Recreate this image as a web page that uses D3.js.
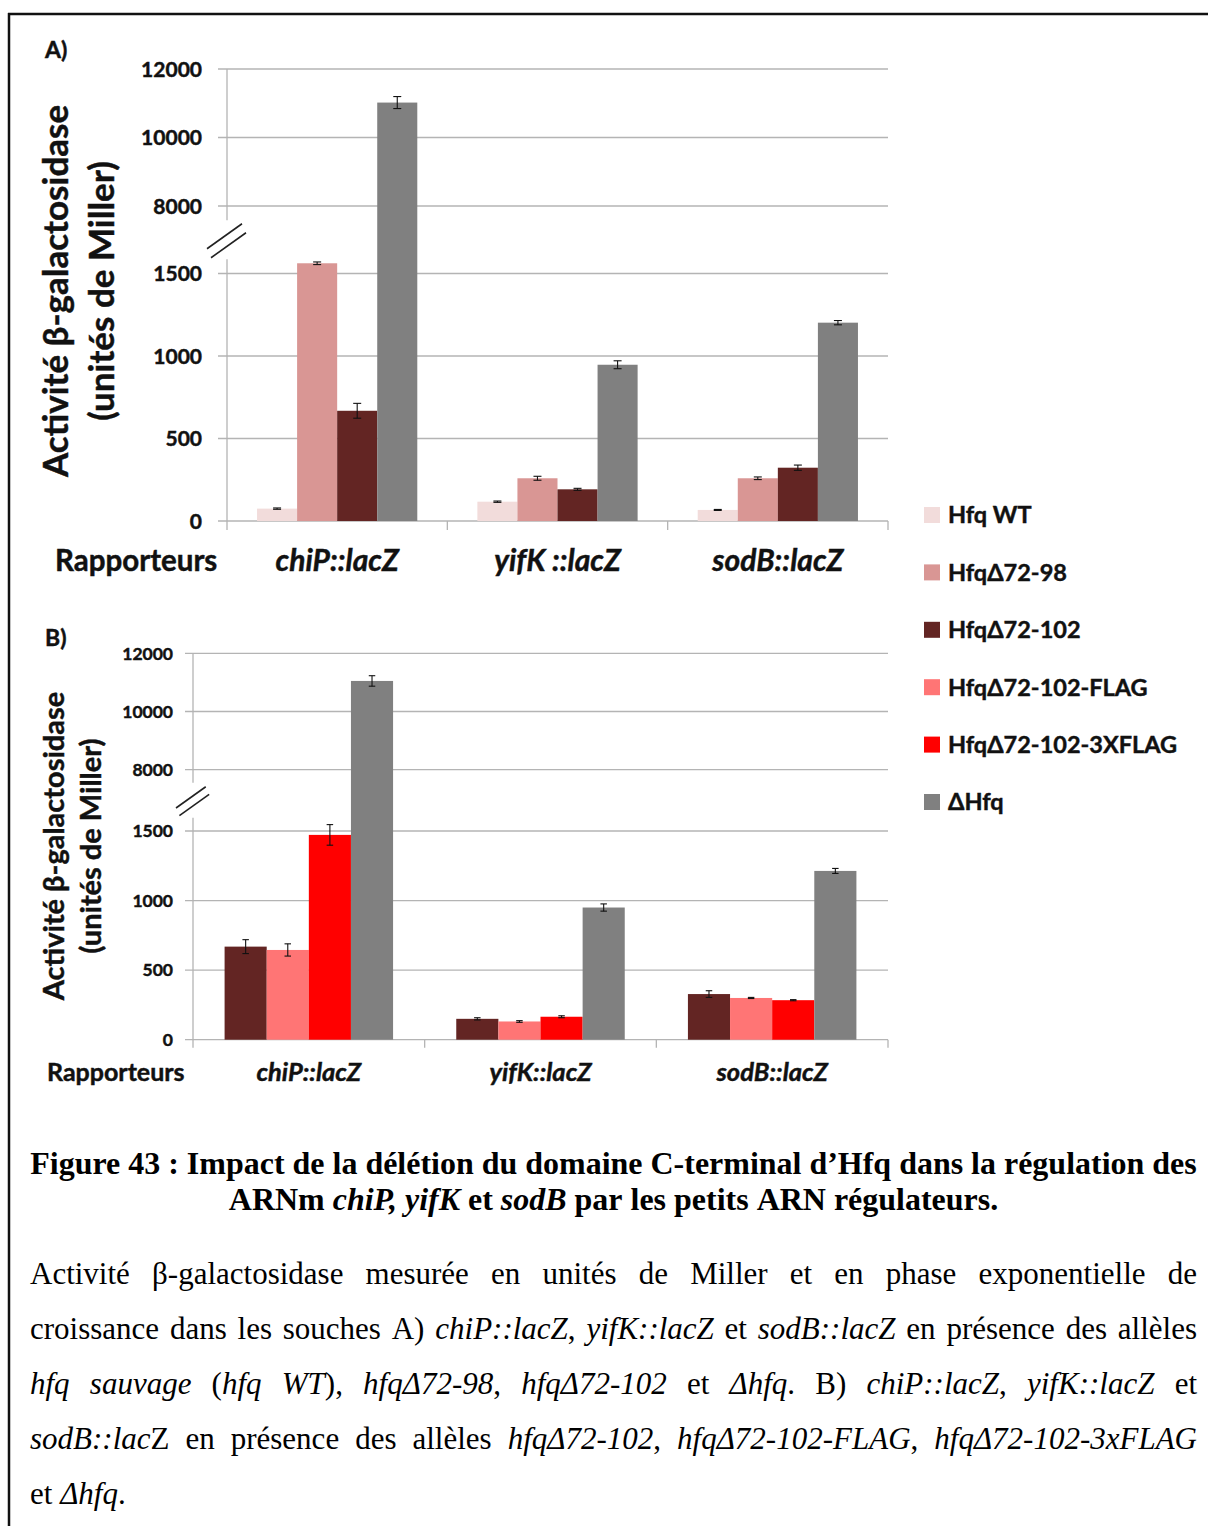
<!DOCTYPE html>
<html><head><meta charset="utf-8">
<script src="https://cdn.jsdelivr.net/npm/d3@7"></script>
<style>body{margin:0;background:#fff} .heavy{stroke:#111;stroke-width:0.45px;paint-order:stroke}</style>
</head><body>
<svg id="c" width="1208" height="1526" xmlns="http://www.w3.org/2000/svg"></svg>
<script>
// ---------- DATA ----------
const seriesNames  = ["Hfq WT","HfqΔ72-98","HfqΔ72-102","HfqΔ72-102-FLAG","HfqΔ72-102-3XFLAG","ΔHfq"];
const seriesColors = ["#f2dcdb","#d99694","#632523","#ff7575","#ff0000","#808080"];
const categoriesA  = ["chiP::lacZ","yifK ::lacZ","sodB::lacZ"];
const categoriesB  = ["chiP::lacZ","yifK::lacZ","sodB::lacZ"];
const tickValues   = [0,500,1000,1500,8000,10000,12000];
const tickLabels   = ["0","500","1000","1500","8000","10000","12000"];

// Panel A values (Miller units) and error bars
const hfqWT_A      = [75, 117, 67];     const hfqWT_A_err    = [4, 4, 3];
const d72_98_A     = [1562, 259, 259];  const d72_98_A_err   = [8, 12, 8];
const d72_102_A    = [668, 192, 323];   const d72_102_A_err  = [45, 6, 16];
const dHfq_A       = [11020, 947, 1202];const dHfq_A_err     = [175, 24, 13];

// Panel B values
const d72_102_B    = [669, 150, 328];   const d72_102_B_err  = [50, 8, 24];
const flag_B       = [645, 131, 300];   const flag_B_err     = [44, 6, 4];
const flag3x_B     = [1472, 165, 284];  const flag3x_B_err   = [74, 7, 4];
const dHfq_B       = [11050, 950, 1213];const dHfq_B_err     = [180, 26, 18];

// ---------- DRAW ----------
const svg = d3.select("#c");
const SANS = "Lato, 'Open Sans', sans-serif";
const SERIF = "'Liberation Serif', 'Times New Roman', serif";

// frame
svg.append("line").attr("x1",8).attr("x2",1208).attr("y1",14).attr("y2",14).attr("stroke","#111").attr("stroke-width",2.5);
svg.append("line").attr("x1",9).attr("x2",9).attr("y1",13).attr("y2",1526).attr("stroke","#111").attr("stroke-width",2.5);

const colorOf = d3.scaleOrdinal().domain(seriesNames).range(seriesColors);

function panel(cfg){
  const g = svg.append("g");
  // broken value axis: lower segment 0-1500, upper segment 8000-12000, joined at the break
  const lower = d3.scaleLinear().domain([0,1500]).range([cfg.yRange[0], cfg.yRange[1]]);
  const upper = d3.scaleLinear().domain([8000,12000]).range([cfg.yRange[2], cfg.yRange[3]]);
  const mid = (lower(1500)+upper(8000))/2;
  const bLow = lower.invert(mid), bHigh = upper.invert(mid);
  const y = d3.scaleLinear()
    .domain([0,1500,bLow,bHigh,8000,12000])
    .range([lower(0),lower(1500),mid,mid,upper(8000),upper(12000)]);
  const x = d3.scaleBand().domain(cfg.categories).range([cfg.xLeft, cfg.xRight]).paddingInner(0).paddingOuter(0);
  const xs = d3.scaleBand().domain(cfg.series.map(s=>s.name)).range([0, x.bandwidth()]).paddingInner(0).paddingOuter(0.75);

  // gridlines
  g.selectAll("line.grid").data(tickValues).join("line")
    .attr("x1", cfg.xLeft - cfg.tickLen).attr("x2", cfg.xRight)
    .attr("y1", d=>y(d)).attr("y2", d=>y(d))
    .attr("stroke","#b4b4b4").attr("stroke-width",1.3);

  // y axis segments (broken)
  const gapHalf = cfg.gapHalf;
  g.append("line").attr("x1",cfg.xLeft).attr("x2",cfg.xLeft).attr("y1",y(12000)).attr("y2",mid-gapHalf)
    .attr("stroke","#b4b4b4").attr("stroke-width",1.3);
  g.append("line").attr("x1",cfg.xLeft).attr("x2",cfg.xLeft).attr("y1",mid+gapHalf).attr("y2",y(0)+cfg.tickLen)
    .attr("stroke","#b4b4b4").attr("stroke-width",1.3);
  // category ticks
  const bounds = cfg.categories.map(c=>x(c)+x.bandwidth());
  g.selectAll("line.ct").data(bounds).join("line")
    .attr("x1",d=>d).attr("x2",d=>d).attr("y1",y(0)).attr("y2",y(0)+cfg.tickLen)
    .attr("stroke","#b4b4b4").attr("stroke-width",1.3);

  // break marks
  const s = cfg.breakScale;
  [[-20,9,15,-16],[-16,18,19,-7]].forEach(b=>{
    g.append("line")
      .attr("x1",cfg.xLeft+b[0]*s).attr("y1",mid+b[1]*s)
      .attr("x2",cfg.xLeft+b[2]*s).attr("y2",mid+b[3]*s)
      .attr("stroke","#222").attr("stroke-width",1.6);
  });

  // tick labels
  g.selectAll("text.tick").data(tickValues).join("text").attr("class","heavy")
    .attr("x", cfg.tickLabelX).attr("y", d=>y(d)).attr("dy","0.36em")
    .attr("text-anchor","end").attr("font-family",SANS).attr("font-weight",700)
    .attr("font-size",cfg.tickFont).attr("fill","#111")
    .text((d,i)=>tickLabels[i]);

  // bars
  const flat = [];
  cfg.categories.forEach((c,ci)=>cfg.series.forEach(sr=>{
    flat.push({cat:c, name:sr.name, v:sr.values[ci], e:sr.err[ci]});
  }));
  g.selectAll("rect.bar").data(flat).join("rect")
    .attr("x", d=>x(d.cat)+xs(d.name)).attr("width", xs.bandwidth())
    .attr("y", d=>y(d.v)).attr("height", d=>y(0)-y(d.v))
    .attr("fill", d=>colorOf(d.name));

  // error bars
  const cx = d=>x(d.cat)+xs(d.name)+xs.bandwidth()/2;
  const eb = g.selectAll("g.eb").data(flat).join("g");
  eb.append("line")
    .attr("x1", cx).attr("x2", cx)
    .attr("y1", d=>y(d.v+d.e)).attr("y2", d=>y(d.v-d.e))
    .attr("stroke","#111").attr("stroke-width",1.1);
  [1,-1].forEach(sg=>{
    eb.append("line")
      .attr("x1", d=>cx(d)-cfg.capW/2).attr("x2", d=>cx(d)+cfg.capW/2)
      .attr("y1", d=>y(d.v+sg*d.e)).attr("y2", d=>y(d.v+sg*d.e))
      .attr("stroke","#111").attr("stroke-width",1.1);
  });

  // category labels
  g.selectAll("text.cat").data(cfg.categories).join("text").attr("class","heavy")
    .attr("x", d=>x(d)+x.bandwidth()/2).attr("y", cfg.catY)
    .attr("text-anchor","middle").attr("font-family",SANS).attr("font-weight",700).attr("font-style","italic")
    .attr("font-size",cfg.catFont).attr("fill","#111").text(d=>d);

  g.append("text").attr("class","heavy").attr("x",cfg.rapX).attr("y",cfg.catY).attr("font-family",SANS).attr("font-weight",700)
    .attr("font-size",cfg.rapFont).attr("fill","#111").text("Rapporteurs");

  // panel letter
  g.append("text").attr("class","heavy").attr("x",45).attr("y",cfg.letterY).attr("font-family",SANS).attr("font-weight",700)
    .attr("font-size",cfg.letterFont).attr("fill","#111").text(cfg.letter);

  // y title
  const yt = g.append("g");
  yt.append("text").attr("class","heavy").attr("transform",`translate(${cfg.title1X},${cfg.titleCY}) rotate(-90)`)
    .attr("text-anchor","middle").attr("font-family",SANS).attr("font-weight",700)
    .attr("font-size",cfg.titleFont).attr("fill","#111").text("Activité β-galactosidase");
  yt.append("text").attr("class","heavy").attr("transform",`translate(${cfg.title2X},${cfg.titleCY}) rotate(-90)`)
    .attr("text-anchor","middle").attr("font-family",SANS).attr("font-weight",700)
    .attr("font-size",cfg.titleFont).attr("fill","#111").text("(unités de Miller)");
}

panel({
  categories: categoriesA,
  series: [
    {name:seriesNames[0], values:hfqWT_A, err:hfqWT_A_err},
    {name:seriesNames[1], values:d72_98_A, err:d72_98_A_err},
    {name:seriesNames[2], values:d72_102_A, err:d72_102_A_err},
    {name:seriesNames[5], values:dHfq_A, err:dHfq_A_err}
  ],
  xLeft:227, xRight:888, yRange:[521,273.5,206,69], tickLen:9, gapHalf:19.5,
  breakScale:1, tickLabelX:202, tickFont:21, capW:8,
  catY:571, catFont:30, rapX:55, rapFont:29.5,
  letter:"A)", letterY:58, letterFont:23,
  title1X:68, title2X:114, titleCY:291, titleFont:35
});

panel({
  categories: categoriesB,
  series: [
    {name:seriesNames[2], values:d72_102_B, err:d72_102_B_err},
    {name:seriesNames[3], values:flag_B, err:flag_B_err},
    {name:seriesNames[4], values:flag3x_B, err:flag3x_B_err},
    {name:seriesNames[5], values:dHfq_B, err:dHfq_B_err}
  ],
  xLeft:193, xRight:888, yRange:[1039.7,831,769.7,653.3], tickLen:8, gapHalf:17.5,
  breakScale:0.85, tickLabelX:173, tickFont:17.5, capW:6.5,
  catY:1081, catFont:25.5, rapX:47, rapFont:25,
  letter:"B)", letterY:646, letterFont:23,
  title1X:64, title2X:101, titleCY:846, titleFont:29
});

// legend
const legY = d3.scalePoint().domain(seriesNames).range([515, 802]);
const lg = svg.append("g");
lg.selectAll("rect").data(seriesNames).join("rect")
  .attr("x",924).attr("y",d=>legY(d)-8).attr("width",16).attr("height",16).attr("fill",d=>colorOf(d));
lg.selectAll("text").data(seriesNames).join("text").attr("class","heavy")
  .attr("x",948).attr("y",d=>legY(d)).attr("dy","0.36em").attr("font-family",SANS).attr("font-weight",700)
  .attr("font-size",23.5).attr("fill","#111").text(d=>d);

// ---------- CAPTION ----------
function parseWord(w){
  return w.split("_").map((t,i)=>({t, it: i%2===1})).filter(r=>r.t.length);
}
function makeWords(g, line, fs, weight){
  return line.split(" ").map(w=>{
    const t = g.append("text").attr("font-size",fs).attr("font-weight",weight)
      .attr("font-family",SERIF).attr("fill","#000");
    parseWord(w).forEach(r=>t.append("tspan").attr("font-style", r.it?"italic":"normal").text(r.t));
    return t;
  });
}
function layoutLine(g, line, y, x0, x1, mode, fs, weight){
  const nodes = makeWords(g, line, fs, weight);
  nodes.forEach(n=>n.attr("y",y));
  const widths = nodes.map(n=>n.node().getComputedTextLength());
  const total = d3.sum(widths);
  const sp = fs*0.25;
  let gap = sp, start = x0;
  if (mode==="justify" && nodes.length>1) gap = (x1-x0-total)/(nodes.length-1);
  if (mode==="center") start = (x0+x1)/2 - (total + sp*(nodes.length-1))/2;
  let x = start;
  nodes.forEach((n,i)=>{ n.attr("x",x); x += widths[i]+gap; });
  return total + sp*(nodes.length-1);
}
function measure(line, fs, weight){
  const tmp = svg.append("g").attr("opacity",0);
  const w = layoutLine(tmp, line, 0, 0, 0, "left", fs, weight);
  tmp.remove(); return w;
}

const titleLines = [
  "Figure 43 : Impact de la délétion du domaine C-terminal d’Hfq dans la régulation des",
  "ARNm _chiP,_ _yifK_ et _sodB_ par les petits ARN régulateurs."
];
const bodyLines = [
  "Activité β-galactosidase mesurée en unités de Miller et en phase exponentielle de",
  "croissance dans les souches A) _chiP::lacZ_, _yifK::lacZ_ et _sodB::lacZ_ en présence des allèles",
  "_hfq_ _sauvage_ (_hfq_ _WT_), _hfqΔ72-98_, _hfqΔ72-102_ et _Δhfq_. B) _chiP::lacZ_, _yifK::lacZ_ et",
  "_sodB::lac_Z en présence des allèles _hfqΔ72-102_, _hfqΔ72-102-FLAG_, _hfqΔ72-102-3xFLAG_",
  "et _Δhfq_."
];
const cap = svg.append("g");
let tfs = 28; tfs = tfs*1167/measure(titleLines[0], tfs, 700);
layoutLine(cap, titleLines[0], 1174, 30, 1197, "center", tfs, 700);
layoutLine(cap, titleLines[1], 1210, 30, 1197, "center", tfs, 700);
let bfs = 31; bfs = Math.min(bfs, bfs*1160/measure(bodyLines[1], bfs, 400));
const bodyY = [1284, 1339, 1394, 1449, 1504];
bodyLines.forEach((l,i)=>layoutLine(cap, l, bodyY[i], 30, 1197, i<4?"justify":"left", bfs, 400));
</script>
</body></html>
